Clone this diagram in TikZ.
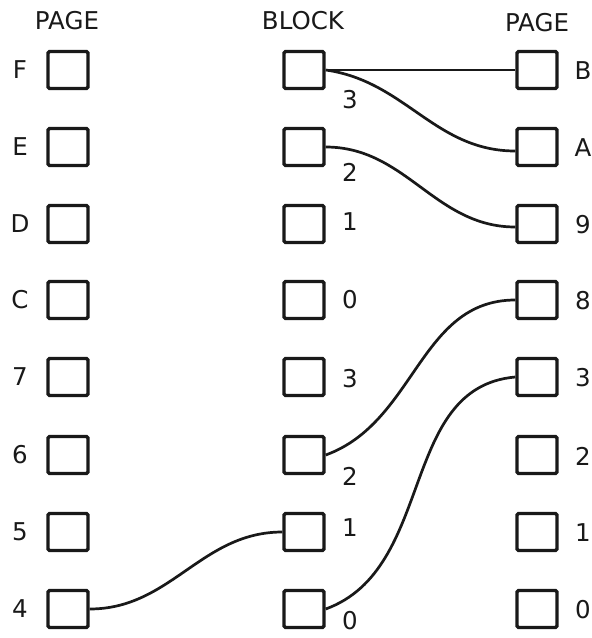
\documentclass[tikz,border=0pt]{standalone}
\usepackage{fontspec}
\setmainfont{DejaVu Sans}
\begin{document}
\begin{tikzpicture}[x=1pt,y=-1pt,
  box/.style={draw=black!90,line width=3.4pt,minimum width=40pt,minimum height=37pt,inner sep=0pt,rounded corners=1.5pt},
  lbl/.style={font=\fontsize{24.5}{26}\selectfont,text=black!90,inner sep=0pt},
  wire/.style={draw=black!90,line width=2.7pt}]
\useasboundingbox (0,0) rectangle (592,638);
\fill[white] (0,0) rectangle (592,638);
% headers
\node[lbl] (hl) at (67,21) {PAGE};
\node[lbl] (hb) at (303,21) {BLOCK};
\node[lbl] (hr) at (537,23) {PAGE};
% rows
\foreach \i/\y/\ll/\bl/\rl in {1/70/F/3/B,2/147/E/2/A,3/224/D/1/9,4/300/C/0/8,5/377/7/3/3,6/455/6/2/2,7/532/5/1/1,8/609/4/0/0}{
  \node[box] (l\i) at (68,\y) {};
  \node[box] (b\i) at (304,\y) {};
  \node[box] (r\i) at (537,\y) {};
  \node[lbl] (ll\i) at (20,\y) {\ll};
  \node[lbl] (rl\i) at (583,\y+1) {\rl};
}
% block labels
\node[lbl] (bl1) at (350,100) {3};
\node[lbl] (bl2) at (350,172) {2};
\node[lbl] (bl3) at (350,222) {1};
\node[lbl] (bl4) at (350,300) {0};
\node[lbl] (bl5) at (350,379) {3};
\node[lbl] (bl6) at (350,476) {2};
\node[lbl] (bl7) at (350,528) {1};
\node[lbl] (bl8) at (350,621) {0};
% connectors
\draw[wire] (b1.east) -- (r1.west);
\draw[wire] (b1.east) to[out=-8,in=180] ([yshift=-4pt]r2.west);
\draw[wire] (b2.east) to[out=0,in=180] ([yshift=-3pt]r3.west);
\draw[wire] (b6.east) to[out=20,in=180] (r4.west);
\draw[wire] (b8.east) to[out=20,in=185] (r5.west);
\draw[wire] (l8.east) to[out=0,in=180] (b7.west);
\end{tikzpicture}
\end{document}
